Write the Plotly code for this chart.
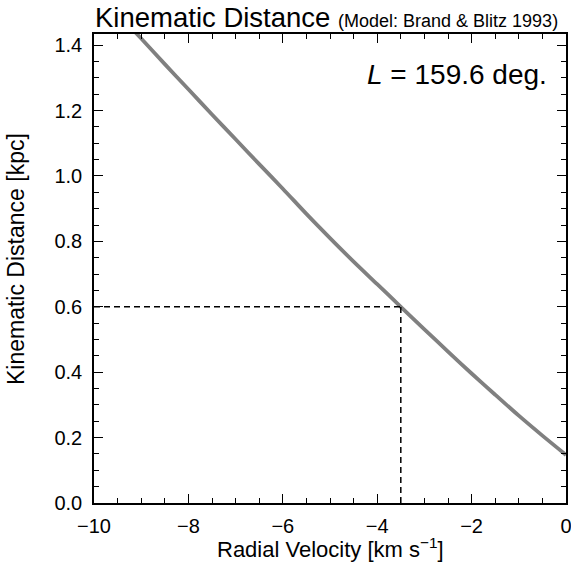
import plotly.graph_objects as go

# Kinematic distance curve
velocity = [-9.2, -9.0, -8.5, -8.0, -7.5, -7.0, -6.5, -6.0, -5.5, -5.0, -4.5,
            -4.0, -3.5, -3.0, -2.5, -2.0, -1.5, -1.0, -0.5, 0.0]
distance = [1.451, 1.420, 1.342, 1.265, 1.188, 1.112, 1.036, 0.961, 0.884, 0.810, 0.738,
            0.669, 0.600, 0.531, 0.463, 0.396, 0.331, 0.267, 0.206, 0.147]

# Marked source velocity / distance
vel_mark = -3.5
dist_mark = 0.6
x_min, x_max = -10, 0
y_min, y_max = 0.0, 1.434

x_ticks = [-10, -8, -6, -4, -2, 0]
x_ticktext = ["\u221210", "\u22128", "\u22126", "\u22124", "\u22122", "0"]
y_ticks = [0.0, 0.2, 0.4, 0.6, 0.8, 1.0, 1.2, 1.4]
y_ticktext = ["0.0", "0.2", "0.4", "0.6", "0.8", "1.0", "1.2", "1.4"]

FONT = "Liberation Sans, Arial, Helvetica, sans-serif"

fig = go.Figure()
fig.add_trace(go.Scatter(x=velocity, y=distance, mode="lines",
                         line=dict(color="#808080", width=3.8, shape="spline", smoothing=0.8),
                         hoverinfo="skip"))
fig.add_trace(go.Scatter(x=[x_min, vel_mark], y=[dist_mark, dist_mark], mode="lines",
                         line=dict(color="black", width=1.5, dash="6px,4px"), hoverinfo="skip"))
fig.add_trace(go.Scatter(x=[vel_mark, vel_mark], y=[y_min, dist_mark], mode="lines",
                         line=dict(color="black", width=1.5, dash="6px,4px"), hoverinfo="skip"))

axis_common = dict(showline=True, linecolor="black", linewidth=1.6, mirror="allticks",
                   ticks="inside", ticklen=9, tickwidth=1.4, tickcolor="black",
                   showgrid=False, zeroline=False, automargin=False,
                   ticklabeloverflow="allow",
                   tickfont=dict(family=FONT, size=20, color="black"))

fig.update_xaxes(range=[x_min, x_max], tickvals=x_ticks, ticktext=x_ticktext,
                 minor=dict(ticks="inside", dtick=0.5, ticklen=5, tickwidth=1.2, tickcolor="black"),
                 ticklabelstandoff=4,
                 **axis_common)
fig.update_yaxes(range=[y_min, y_max], tickvals=y_ticks, ticktext=y_ticktext,
                 minor=dict(ticks="inside", dtick=0.05, ticklen=5, tickwidth=1.2, tickcolor="black"),
                 ticklabelstandoff=6,
                 **axis_common)

# axis titles
fig.add_annotation(x=0.5, y=-0.096, xref="paper", yref="paper", xanchor="center", yanchor="middle",
                   text="Radial Velocity [km s<sup>\u22121</sup>]", showarrow=False,
                   font=dict(family=FONT, size=22, color="black"))
fig.add_annotation(x=-0.1655, y=0.52, xref="paper", yref="paper", xanchor="center", yanchor="middle",
                   text="Kinematic Distance [kpc]", showarrow=False, textangle=-90,
                   font=dict(family=FONT, size=23, color="black"))

fig.add_annotation(x=0.964, y=0.9126, xref="paper", yref="paper", xanchor="right", yanchor="middle",
                   text="<i>L</i> = 159.6 deg.", showarrow=False,
                   font=dict(family=FONT, size=28, color="black"))

fig.update_layout(
    width=571, height=569,
    margin=dict(l=94, r=5, t=34, b=66),
    plot_bgcolor="white", paper_bgcolor="white",
    showlegend=False,
    title=dict(text="Kinematic Distance <span style='font-size:18px'>(Model: Brand &amp; Blitz 1993)</span>",
               x=0.1664, xanchor="left", xref="container", y=0.970, yanchor="middle",
               font=dict(family=FONT, size=27.5, color="black"), automargin=False),
)

# remove the default page margin so the figure sits at the window's top-left corner
fig.write_html("out.html", config={"displayModeBar": False},
               post_script="document.body.style.margin='0';")
